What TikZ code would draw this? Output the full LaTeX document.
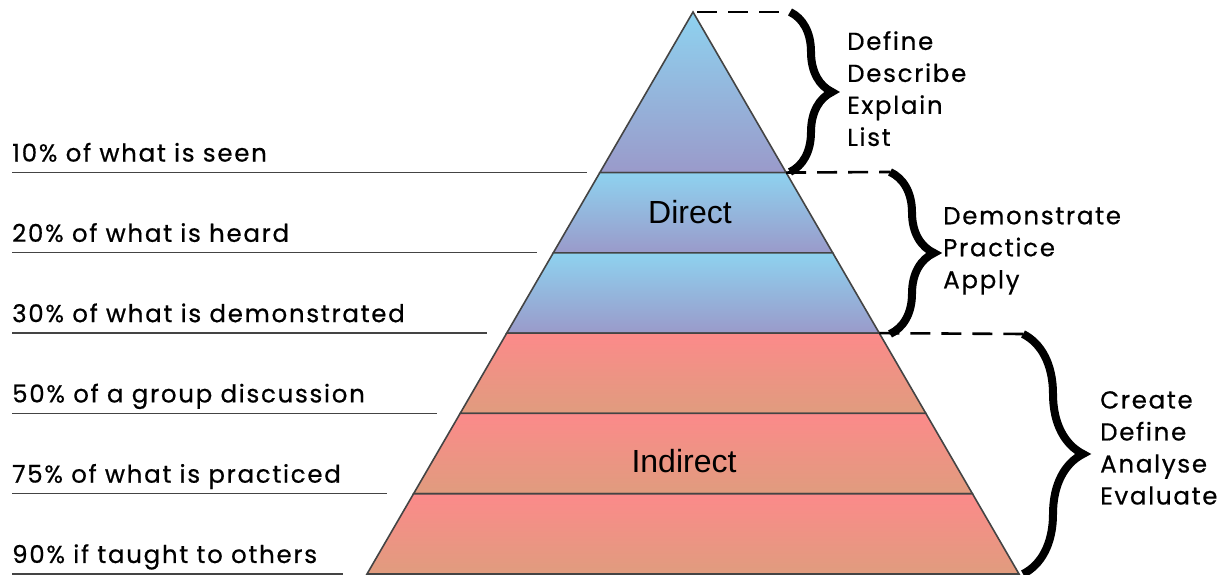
\documentclass[tikz,border=0pt]{standalone}
\usepackage{fontspec}
\setmainfont{Poppins}[LetterSpace=7,FakeBold=0.6]
\newfontfamily\arialfont{Liberation Sans}
\usepackage{xcolor}
\usetikzlibrary{calc,decorations.pathreplacing}
\definecolor{bluetop}{HTML}{8ED2EF}
\definecolor{bluebot}{HTML}{9A9ACA}
\definecolor{redtop}{HTML}{FC8A8A}
\definecolor{redbot}{HTML}{E09C7E}
\definecolor{edgegray}{HTML}{444444}

\begin{document}
\begin{tikzpicture}[x=1pt,y=1pt,
  band/.style={draw=edgegray,line width=1.6pt},
  leftlabel/.style={anchor=base west,inner sep=0pt,font=\fontsize{24.5}{28}\selectfont},
  rule/.style={draw=edgegray,line width=1.3pt},
  verbs/.style={anchor=north west,align=left,inner sep=0pt,font=\fontsize{24.5}{32}\selectfont},
  bigbrace/.style={decorate,decoration={brace,amplitude=#1},line width=8pt},
  guide/.style={line width=2.6pt,dash pattern=on 20pt off 11pt},
  tier/.style={font=\arialfont\fontsize{32}{36}\selectfont,inner sep=0pt}]
\useasboundingbox (0,0) rectangle (1225,575);
\coordinate (apex) at (693,563);
\coordinate (bl) at (367,1);
\coordinate (br) at (1019,1);
% pyramid bands
\foreach \a/\b/\c in {0/2/blue,2/3/blue,3/4/blue,4/5/red,5/6/red,6/7/red}
  \draw[band,top color=\c top,bottom color=\c bot]
    ($(apex)!{\a/7}!(bl)$) -- ($(apex)!{\b/7}!(bl)$) -- ($(apex)!{\b/7}!(br)$)
    -- ($(apex)!{\a/7}!(br)$) -- cycle;
\node[tier] (direct) at (690,363) {Direct};
\node[tier] (indirect) at (684,114) {Indirect};
% left labels
\foreach \k/\xe/\txt [count=\i] in {2/587/10\% of what is seen,3/537/20\% of what is heard,
    4/487/30\% of what is demonstrated,5/437/50\% of a group discussion,
    6/387/75\% of what is practiced,7/343/90\% if taught to others}{
  \coordinate (lvl\i) at ($(apex)!{\k/7}!(bl)$);
  \coordinate (rs\i) at (12,0 |- lvl\i);
  \coordinate (re\i) at (\xe,0 |- lvl\i);
  \node[leftlabel] (pct\i) at ($(rs\i)+(0,11)$) {\txt};
  \draw[rule] (rs\i) -- (re\i);
}
% braces and dashed guides
\coordinate (b1t) at (790,563);
\coordinate (b1b) at (790,403);
\coordinate (b2t) at (890,403);
\coordinate (b2b) at (890,241);
\coordinate (b3t) at (1023,241);
\coordinate (b3b) at (1023,1);
\draw[guide] (apex) ++(4,0) -- (b1t);
\draw[guide] ($(apex)!{2/7}!(br)$) -- (b2t);
\draw[guide] ($(apex)!{4/7}!(br)$) -- (b3t);
\draw[bigbrace=42pt] (b1t) -- (b1b);
\draw[bigbrace=44pt] (b2t) -- (b2b);
\draw[bigbrace=60pt] (b3t) -- (b3b);
\node[verbs] (recall) at (847,544) {Define\\Describe\\Explain\\List};
\node[verbs] (practise) at (943,368) {Demonstrate\\Practice\\Apply};
\node[verbs] (create) at (1100,184) {Create\\Define\\Analyse\\Evaluate};
\end{tikzpicture}
\end{document}
